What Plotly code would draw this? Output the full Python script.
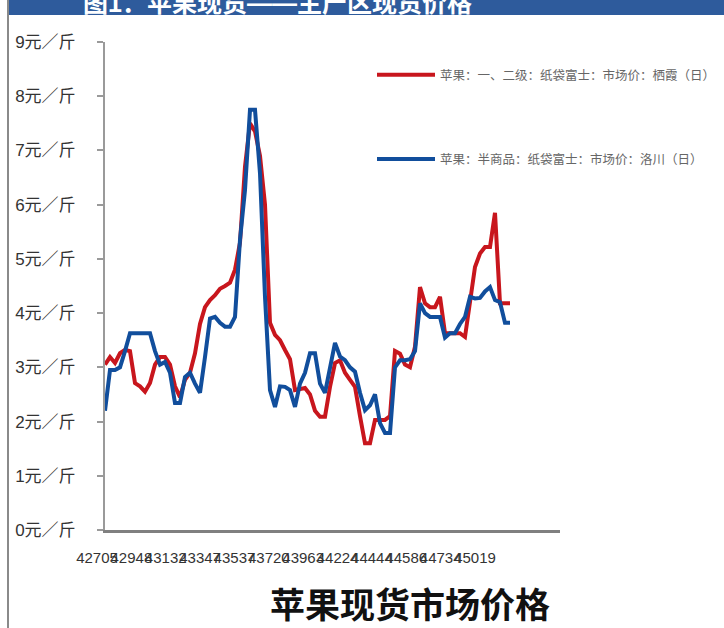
import plotly.graph_objects as go

# ---- data ----
red_name = "苹果：一、二级：纸袋富士：市场价：栖霞（日）"
blue_name = "苹果：半商品：纸袋富士：市场价：洛川（日）"

red_vals = [3.05, 3.19, 3.08, 3.26, 3.32, 3.30, 2.71, 2.65, 2.55, 2.71,
            3.05, 3.19, 3.19, 3.05, 2.65, 2.45, 2.77, 2.90, 3.26, 3.80,
            4.11, 4.24, 4.33, 4.45, 4.50, 4.56, 4.80, 5.30, 6.70, 7.50,
            7.35, 6.90, 6.00, 3.82, 3.60, 3.50, 3.32, 3.15, 2.58, 2.60,
            2.62, 2.50, 2.20, 2.09, 2.09, 2.64, 3.08, 3.13, 2.90, 2.77,
            2.64, 2.10, 1.60, 1.60, 2.03, 2.03, 2.03, 2.10, 3.30, 3.25,
            3.05, 3.00, 3.38, 4.48, 4.18, 4.11, 4.11, 4.30, 3.63, 3.63,
            3.63, 3.63, 3.56, 4.20, 4.85, 5.10, 5.22, 5.22, 5.85, 4.18,
            4.18, 4.18]

blue_vals = [2.20, 2.95, 2.95, 3.00, 3.30, 3.63, 3.63, 3.63, 3.63, 3.63,
             3.30, 3.05, 3.10, 2.90, 2.34, 2.34, 2.82, 2.90, 2.70, 2.53,
             3.19, 3.90, 3.93, 3.82, 3.75, 3.75, 3.93, 5.35, 6.27, 7.75,
             7.75, 6.58, 4.30, 2.58, 2.27, 2.65, 2.64, 2.58, 2.27, 2.70,
             2.90, 3.26, 3.26, 2.70, 2.53, 3.00, 3.45, 3.20, 3.13, 3.00,
             2.92, 2.53, 2.21, 2.30, 2.50, 1.97, 1.79, 1.79, 3.00, 3.13,
             3.13, 3.15, 3.30, 4.18, 4.00, 3.93, 3.93, 3.93, 3.55, 3.63,
             3.63, 3.80, 3.93, 4.30, 4.27, 4.28, 4.40, 4.48, 4.24, 4.20,
             3.82, 3.82]

x_labels = ["42705", "42948", "43132", "43347", "43537", "43720",
            "43963", "44224", "44444", "44586", "44734", "45019"]

y_ticks = [0, 1, 2, 3, 4, 5, 6, 7, 8, 9]
y_labels = [f"{v}元／斤" for v in y_ticks]

title_text = "苹果现货市场价格"
banner_text = "图1：苹果现货——主产区现货价格"

# ---- figure ----
FONT = "Liberation Sans, Noto Sans CJK SC"
idx = list(range(len(red_vals)))
label_step = 6.873  # spacing of category labels (in sample units)
tick_pos = [k * label_step for k in range(len(x_labels))]

fig = go.Figure()
fig.add_trace(go.Scatter(x=idx, y=red_vals, mode="lines", name=red_name,
                         legendgroup="r",
                         line=dict(color="#C8161D", width=4)))
fig.add_trace(go.Scatter(x=idx, y=blue_vals, mode="lines", name=blue_name,
                         legendgroup="b",
                         line=dict(color="#114E9C", width=4)))

L, R, T, B = 105, 164, 42, 98
W, H = 724, 628
pw, ph = W - L - R, H - T - B

def px(xp):
    return (xp - L) / pw

def py(yp):
    return (H - B - yp) / ph

fig.update_layout(
    width=W, height=H,
    margin=dict(l=L, r=R, t=T, b=B, autoexpand=False),
    paper_bgcolor="white", plot_bgcolor="white",
    font=dict(family=FONT, color="#333333"),
    showlegend=True,
    legend=dict(x=px(372), y=py(60), xanchor="left", yanchor="top",
                bgcolor="rgba(0,0,0,0)", tracegroupgap=65, itemwidth=58,
                font=dict(size=12.5, color="#666666", family=FONT)),
    xaxis=dict(range=[0, 91], showgrid=False, zeroline=False,
               showline=True, linecolor="#808080", linewidth=3,
               tickmode="array", tickvals=tick_pos, ticktext=x_labels,
               ticks="", tickangle=0,
               tickfont=dict(size=15, color="#333333", family=FONT),
               ticklabelshift=-8, ticklabelstandoff=12),
    yaxis=dict(range=[0, 9], showgrid=False, zeroline=False,
               showline=True, linecolor="#9a9a9a", linewidth=2,
               tickmode="array", tickvals=y_ticks, ticktext=y_labels,
               ticks="outside", ticklen=6, tickcolor="#9a9a9a", tickwidth=1.5,
               tickfont=dict(size=17, color="#333333", family=FONT),
               ticklabelstandoff=18),
)

# top banner and page frame
fig.add_shape(type="rect", xref="paper", yref="paper",
              x0=px(8), x1=px(730), y0=py(15), y1=py(-5),
              fillcolor="#2E5B9C", line=dict(width=0), layer="below")
fig.add_shape(type="line", xref="paper", yref="paper",
              x0=px(8), x1=px(8), y0=py(0), y1=py(628),
              line=dict(color="#8a8a8a", width=2))
fig.add_annotation(xref="paper", yref="paper", x=px(277), y=py(19),
                   xanchor="center", yanchor="bottom", showarrow=False,
                   text="<b>" + banner_text + "</b>",
                   font=dict(size=25, color="white", family=FONT))

# bottom title
fig.add_annotation(xref="paper", yref="paper", x=px(410), y=py(602),
                   xanchor="center", yanchor="middle", showarrow=False,
                   text="<b>" + title_text + "</b>",
                   font=dict(size=35, color="#111111", family="Noto Sans CJK SC"))

fig.write_html("out.html",
               config={"displayModeBar": False},
               post_script="document.body.style.margin='0';document.body.style.padding='0';")
